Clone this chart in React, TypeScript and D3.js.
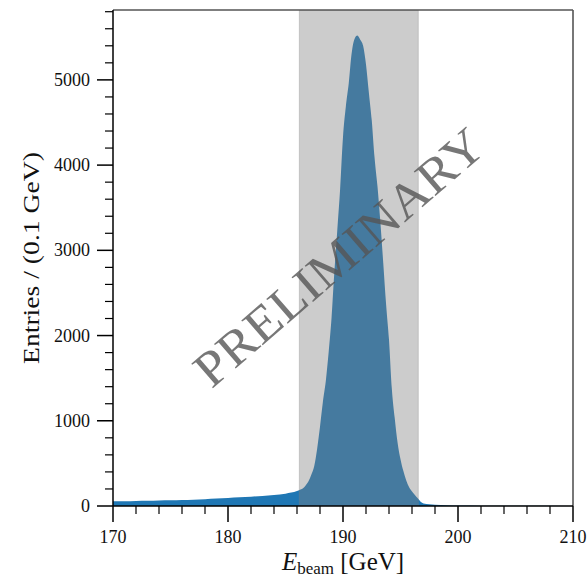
import React from "react";
import * as d3 from "d3";

// Beam energy (GeV) sample positions and entries per 0.1 GeV
const energyGeV = [
  170, 171, 172, 173, 174, 175, 176, 177, 178, 179, 180, 181, 182, 183, 184, 185, 186,
  186.25, 186.5, 186.75, 187, 187.25, 187.5, 187.75, 188, 188.25, 188.5, 188.75,
  189, 189.25, 189.5, 189.75, 190, 190.25, 190.5, 190.75, 191, 191.25, 191.5, 191.75,
  192, 192.25, 192.5, 192.75, 193, 193.25, 193.5, 193.75, 194, 194.25, 194.5, 194.75,
  195, 195.25, 195.5, 195.75, 196, 196.25, 196.5, 196.75, 197, 197.5, 198, 199, 200,
  202, 205, 210,
];
const entries = [
  55, 57, 60, 62, 65, 67, 70, 74, 80, 87, 95, 102, 110, 118, 128, 145, 175,
  190, 205, 240, 290, 370, 470, 670, 930, 1220, 1460, 1800,
  2200, 2750, 3230, 3720, 4330, 4690, 4960, 5310, 5480, 5520, 5470, 5400,
  5180, 4850, 4525, 4080, 3750, 3330, 2850, 2360, 1950, 1370, 1030, 740,
  550, 410, 300, 220, 170, 130, 90, 50, 30, 22, 15, 9, 5,
  3, 2, 1,
];

// Selected window (grey band), GeV
const bandRange = [186.2, 196.55];

const xMajorTicks = [170, 180, 190, 200, 210];
const yMajorTicks = [0, 1000, 2000, 3000, 4000, 5000];

const W = 588;
const H = 579;
const left = 113;
const right = 573;
const top = 10;
const bottom = 506;

export default function App() {
  const x = d3.scaleLinear().domain([170, 210]).range([left, right]);
  const y = d3.scaleLinear().domain([0, 5820]).range([bottom, top]);

  const pts = energyGeV.map((e, i) => [e, entries[i]] as [number, number]);
  const area = d3
    .area<[number, number]>()
    .x((d) => x(d[0]))
    .y0(y(0))
    .y1((d) => y(d[1]))
    .curve(d3.curveMonotoneX);

  const xMinor = d3.range(170, 210.01, 2).filter((v) => !xMajorTicks.includes(v));
  const yMinor = d3.range(0, 5820, 200).filter((v) => !yMajorTicks.includes(v));

  const serif = "'Liberation Serif', 'DejaVu Serif', serif";
  const cx = (left + right) / 2;
  const cy = (top + bottom) / 2;

  return (
    <svg
      width={W}
      height={H}
      style={{ position: "absolute", left: 0, top: 0, background: "#fff" }}
      fontFamily={serif}
    >
      <defs>
        <clipPath id="plot">
          <rect x={left} y={top} width={right - left} height={bottom - top} />
        </clipPath>
      </defs>
      <rect x={0} y={0} width={W} height={H} fill="#fff" />
      <g clipPath="url(#plot)">
        <path d={area(pts) || ""} fill="#1f77b4" />
        <rect
          x={x(bandRange[0])}
          y={top}
          width={x(bandRange[1]) - x(bandRange[0])}
          height={bottom - top}
          fill="rgb(128,128,128)"
          fillOpacity={0.4}
          stroke="rgb(128,128,128)"
          strokeOpacity={0.3}
          strokeWidth={1}
        />
        <text
          transform={`translate(${339},${257}) rotate(-40.8)`}
          textAnchor="middle"
          dominantBaseline="central"
          fontSize={50}
          fill="#555"
          fillOpacity={0.8}
          textLength={366}
          lengthAdjust="spacingAndGlyphs"
        >
          PRELIMINARY
        </text>
      </g>

      {/* spines */}
      <line x1={left} x2={right} y1={top} y2={top} stroke="#555" strokeWidth={1.6} />
      <line x1={right} x2={right} y1={top} y2={bottom} stroke="#555" strokeWidth={1.6} />
      <line x1={left} x2={left} y1={top} y2={bottom} stroke="#000" strokeWidth={1.5} />
      <line x1={left} x2={right} y1={bottom} y2={bottom} stroke="#000" strokeWidth={1.5} />

      {/* x ticks */}
      {xMajorTicks.map((t) => (
        <g key={"xM" + t}>
          <line x1={x(t)} x2={x(t)} y1={bottom} y2={bottom + 16} stroke="#000" strokeWidth={1.5} />
          <text x={x(t)} y={543} textAnchor="middle" fontSize={18} fill="#111">
            {t}
          </text>
        </g>
      ))}
      {xMinor.map((t) => (
        <line key={"xm" + t} x1={x(t)} x2={x(t)} y1={bottom} y2={bottom + 8} stroke="#000" strokeWidth={1.2} />
      ))}

      {/* y ticks */}
      {yMajorTicks.map((t) => (
        <g key={"yM" + t}>
          <line x1={left - 16} x2={left} y1={y(t)} y2={y(t)} stroke="#000" strokeWidth={1.5} />
          <text x={90} y={y(t)} textAnchor="end" dominantBaseline="central" fontSize={18} fill="#111">
            {t}
          </text>
        </g>
      ))}
      {yMinor.map((t) => (
        <line key={"ym" + t} x1={left - 8} x2={left} y1={y(t)} y2={y(t)} stroke="#000" strokeWidth={1.2} />
      ))}

      {/* axis labels */}
      <text x={cx} y={570} textAnchor="middle" fontSize={25} fill="#111">
        <tspan fontStyle="italic">E</tspan>
        <tspan fontSize={17} dy={4}>beam</tspan>
        <tspan dy={-4}> [GeV]</tspan>
      </text>
      <text
        transform={`translate(39,${cy}) rotate(-90)`}
        textAnchor="middle"
        fontSize={23}
        fill="#111"
        textLength={212}
        lengthAdjust="spacingAndGlyphs"
      >
        Entries / (0.1 GeV)
      </text>
    </svg>
  );
}
